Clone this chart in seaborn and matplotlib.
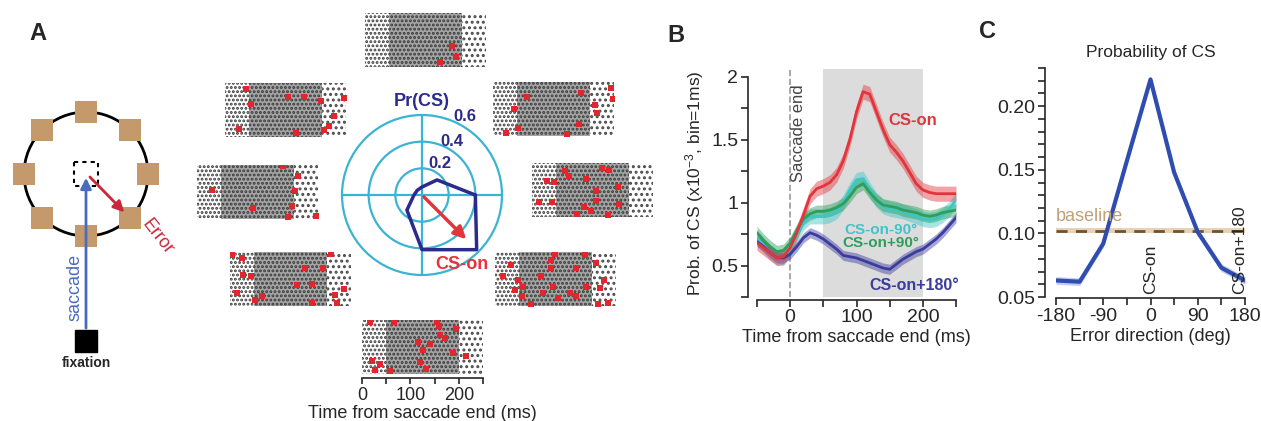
import numpy as np
import matplotlib.pyplot as plt
import matplotlib.patches as mpatches
from matplotlib.ticker import MultipleLocator
import seaborn as sns

sns.set_style('ticks')
plt.rcParams['font.family'] = ['Liberation Sans', 'DejaVu Sans']
plt.rcParams['mathtext.default'] = 'regular'
plt.rcParams['axes.unicode_minus'] = False
plt.rcParams['hatch.linewidth'] = 1.4

W, H = 1261, 421

# ---- panel A: target directions and Pr(CS) per direction
directions = [0, 45, 90, 135, 180, 225, 270, 315]
pr_cs = [0.40, 0.16, 0.06, 0.05, 0.06, 0.16, 0.41, 0.58]
cs_on_dir = 315
cs_on_len = 0.49

# complex spikes in each raster: (time ms, trial fraction)
cs_right = [(69, .15), (76, .24), (31, .33), (45, .36), (111, .30), (145, .09), (159, .13),
            (177, .45), (132, .52), (132, .70), (14, .73), (42, .73), (107, .82), (121, .88),
            (156, .97), (94, .94), (180, .76)]
cs_upright = [(243, .12), (248, .32), (210, .42), (215, .58), (181, .21), (71, .28), (44, .50),
              (51, .85), (27, .94), (177, .77), (152, .97)]
cs_up = [(180, .61), (189, .81), (155, .90)]
cs_upleft = [(44, .11), (54, .39), (130, .25), (164, .26), (198, .34), (245, .28), (226, .62),
             (215, .80), (205, .87), (29, .86), (146, .92)]
cs_left = [(178, .02), (209, .21), (202, .48), (30, .47), (115, .80), (196, .76), (189, .97),
           (245, .94)]
cs_downleft = [(5, .06), (24, .12), (27, .42), (44, .45), (14, .76), (51, .88), (66, .81),
               (154, .30), (193, .30), (138, .62), (170, .59), (170, .94), (208, .03),
               (236, .68), (216, .80), (221, .94)]
cs_down = [(17, .04), (66, .03), (154, .03), (160, .12), (195, .16), (161, .28), (171, .34),
           (116, .40), (140, .44), (127, .56), (188, .61), (214, .66), (21, .75), (38, .82),
           (27, .92), (58, .94), (120, .78), (133, .90)]
cs_downright = [(34, .24), (17, .45), (48, .52), (41, .70), (58, .64), (75, .97), (55, .82),
                (123, .03), (116, .15), (116, .30), (168, .30), (185, .06), (96, .45),
                (120, .64), (99, .76), (130, .85), (154, .76), (168, .82), (188, .64),
                (209, .21), (226, .52), (216, .67), (233, .94), (212, .97)]
raster_cs = [cs_right, cs_upright, cs_up, cs_upleft, cs_left, cs_downleft, cs_down, cs_downright]

# ---- panel B: CS probability vs time
t_b = list(range(-50, 251, 10))
cs_on = [0.68, 0.64, 0.60, 0.56, 0.57, 0.64, 0.76, 0.90, 1.05, 1.11, 1.13, 1.16, 1.22, 1.33,
         1.50, 1.72, 1.88, 1.86, 1.72, 1.58, 1.46, 1.40, 1.33, 1.24, 1.15, 1.10, 1.08, 1.07,
         1.07, 1.07, 1.07]
cs_on_m90 = [0.72, 0.66, 0.60, 0.56, 0.56, 0.63, 0.74, 0.84, 0.89, 0.89, 0.89, 0.90, 0.93,
             1.00, 1.10, 1.18, 1.19, 1.10, 1.02, 0.97, 0.95, 0.94, 0.93, 0.91, 0.89, 0.87,
             0.86, 0.87, 0.90, 0.95, 1.02]
cs_on_p90 = [0.76, 0.70, 0.65, 0.61, 0.62, 0.68, 0.78, 0.87, 0.91, 0.93, 0.93, 0.94, 0.96,
             0.99, 1.05, 1.12, 1.15, 1.08, 1.02, 0.98, 0.97, 0.96, 0.94, 0.93, 0.92, 0.90,
             0.89, 0.90, 0.92, 0.93, 0.94]
cs_on_180 = [0.69, 0.65, 0.60, 0.56, 0.56, 0.59, 0.65, 0.72, 0.76, 0.74, 0.71, 0.67, 0.63,
             0.58, 0.57, 0.56, 0.54, 0.52, 0.50, 0.48, 0.47, 0.51, 0.55, 0.58, 0.61, 0.63,
             0.67, 0.71, 0.76, 0.82, 0.88]
sem_b = [0.06, 0.06, 0.05, 0.04]

# ---- panel C: tuning curve
err_dir = [-180, -135, -90, -45, 0, 45, 90, 135, 180]
prob_cs = [0.063, 0.062, 0.092, 0.157, 0.221, 0.148, 0.101, 0.073, 0.063]
prob_sem = 0.003
baseline = 0.102
baseline_sem = 0.002

red = '#e3343c'
navy = '#2a2b8c'
ring = '#3ab4d2'


def px_axes(fig, x0, y0, w, h, **kw):
    return fig.add_axes([x0 / W, 1 - (y0 + h) / H, w / W, h / H], **kw)


fig = plt.figure(figsize=(W / 100, H / 100), dpi=100)

# ---------------- A: schematic
axs = px_axes(fig, 5, 80, 190, 300)
axs.set_xlim(5, 195)
axs.set_ylim(380, 80)
axs.axis('off')
cx, cy, R = 86, 174, 62
axs.add_patch(mpatches.Circle((cx, cy), R, fill=False, lw=2, ec='black', zorder=1))
for d in directions:
    a = np.deg2rad(d)
    x, y = cx + R * np.cos(a), cy - R * np.sin(a)
    axs.add_patch(mpatches.Rectangle((x - 11, y - 11), 22, 22, color='#c49a6c', lw=0, zorder=2))
axs.add_patch(mpatches.Rectangle((cx - 12, cy - 12), 24, 24, fill=False, ls=(0, (2, 2)),
                                 lw=1.5, ec='black', zorder=3))
axs.add_patch(mpatches.Rectangle((cx - 11, 330), 22, 22, color='black', zorder=2))
axs.annotate('', xy=(cx, cy + 1), xytext=(cx, 331),
             arrowprops=dict(arrowstyle='-|>', color='#4a6cc0', lw=2, mutation_scale=16))
a = np.deg2rad(cs_on_dir)
axs.annotate('', xy=(cx + (R - 5) * np.cos(a), cy - (R - 5) * np.sin(a)), xytext=(cx + 2, cy + 1),
             arrowprops=dict(arrowstyle='-|>', color='#c8283a', lw=2, mutation_scale=16), zorder=4)
axs.text(cx, 363, 'fixation', ha='center', va='center', fontsize=10, fontweight='bold')
axs.text(75, 287, 'saccade', rotation=90, color='#4a6cc0', fontsize=13, ha='center', va='center')
axs.text(157, 237, 'Error', rotation=-52, color='#c8283a', fontsize=13, ha='center', va='center')

# ---------------- A: rasters
raster_pos = [(532, 163), (493, 82), (365, 13), (225, 83), (197, 165), (230, 252), (362, 320),
              (495, 252)]
for d, (x0, y0), ev in zip(directions, raster_pos, raster_cs):
    ax = px_axes(fig, x0, y0, 121, 54)
    ax.set_xlim(0, 250)
    ax.set_ylim(1, 0)
    ax.axvspan(50, 200, color='#a4a4a4', lw=0, zorder=0)
    ax.add_patch(mpatches.Rectangle((0, 0), 200, 1, fill=False, hatch='....', ec='#3a3a3a',
                                    lw=0, zorder=1))
    ax.add_patch(mpatches.Rectangle((200, 0), 50, 1, fill=False, hatch='...', ec='#4a4a4a',
                                    lw=0, zorder=1))
    sns.scatterplot(x=[e[0] for e in ev], y=[e[1] for e in ev], ax=ax, marker='s', s=18,
                    color='#e2262e', linewidth=0, zorder=3)
    sns.despine(ax=ax, left=True, bottom=(d != 270))
    ax.set_yticks([])
    if d == 270:
        ax.spines['bottom'].set_position(('outward', 3))
        ax.spines['bottom'].set_linewidth(1.2)
        ax.set_xticks([0, 100, 200])
        ax.xaxis.set_minor_locator(MultipleLocator(50))
        ax.tick_params(axis='x', which='both', length=4, width=1.2, labelsize=13, pad=2)
        ax.set_xlabel('Time from saccade end (ms)', fontsize=13, labelpad=1)
    else:
        ax.set_xticks([])

# ---------------- A: polar tuning
axp = px_axes(fig, 342, 115, 160, 160, projection='polar')
axp.set_facecolor('none')
axp.set_ylim(0, 0.6)
axp.set_yticks([0.2, 0.4])
axp.set_yticklabels([])
axp.set_xticks(np.deg2rad([0, 90, 180, 270]))
axp.set_xticklabels([])
axp.grid(True, color=ring, lw=1.6)
axp.spines['polar'].set_color(ring)
axp.spines['polar'].set_linewidth(1.6)
theta = list(np.deg2rad(directions)) + [2 * np.pi]
sns.lineplot(x=theta, y=pr_cs + [pr_cs[0]], ax=axp, sort=False, estimator=None,
             color=navy, lw=2.5)
axp.annotate('', xy=(np.deg2rad(cs_on_dir), cs_on_len), xytext=(0, 0),
             arrowprops=dict(arrowstyle='-|>', color=red, lw=2.5, mutation_scale=18))
for r, rr in zip([0.2, 0.4, 0.6], [0.27, 0.46, 0.67]):
    axp.text(np.deg2rad(61), rr, f'{r:.1f}', color=navy, fontsize=12, fontweight='bold',
             ha='center', va='center')
axp.text(np.pi / 2, 0.70, 'Pr(CS)', color=navy, fontsize=13, fontweight='bold',
         ha='center', va='center', clip_on=False)
axp.text(np.deg2rad(300), 0.60, 'CS-on', color=red, fontsize=13, fontweight='bold',
         ha='center', va='center', clip_on=False)

# ---------------- B
axb = px_axes(fig, 757, 69, 199, 228)
axb.axvspan(50, 200, color='#dcdcdc', lw=0, zorder=0)
axb.axvline(0, color='#9a9a9a', ls='--', lw=1.2, zorder=1)
series_b = [(cs_on_m90, '#3cc6c6'), (cs_on_p90, '#2e9e5b'), (cs_on_180, '#3b3c9e'), (cs_on, red)]
sems = [sem_b[1], sem_b[2], sem_b[3], sem_b[0]]
for (vals, col), s in zip(series_b, sems):
    v = np.array(vals)
    axb.fill_between(t_b, v - s, v + s, color=col, alpha=0.45, lw=0, zorder=2)
    sns.lineplot(x=t_b, y=vals, ax=axb, color=col, lw=2, zorder=3)
axb.set_xlim(-50, 250)
axb.set_ylim(0.25, 2.06)
axb.set_yticks([0.5, 1, 1.5, 2], ['0.5', '1', '1.5', '2'])
axb.yaxis.set_minor_locator(MultipleLocator(0.25))
axb.set_xticks([0, 100, 200])
axb.xaxis.set_minor_locator(MultipleLocator(50))
sns.despine(ax=axb)
axb.spines['left'].set_bounds(0.25, 2)
axb.spines['left'].set_position(('outward', 6.5))
axb.spines['bottom'].set_position(('outward', 2))
for sp in ['left', 'bottom']:
    axb.spines[sp].set_linewidth(1.2)
axb.tick_params(which='both', length=5, width=1.2, labelsize=14, pad=2)
axb.set_xlabel('Time from saccade end (ms)', fontsize=13, labelpad=2)
axb.set_ylabel('Prob. of CS (x10$^{-3}$, bin=1ms)', fontsize=12.5, labelpad=4)
axb.text(12, 1.55, 'Saccade end', rotation=90, fontsize=12, color='#444444',
         ha='center', va='center')
axb.text(185, 1.65, 'CS-on', color=red, fontsize=12, fontweight='bold', ha='center', va='center')
axb.text(137, 0.785, 'CS-on-90°', color='#45c3c8', fontsize=11, fontweight='bold',
         ha='center', va='center')
axb.text(137, 0.675, 'CS-on+90°', color='#2e9e5b', fontsize=11, fontweight='bold',
         ha='center', va='center')
axb.text(187, 0.34, 'CS-on+180°', color='#3b3c9e', fontsize=11.5, fontweight='bold',
         ha='center', va='center')

# ---------------- C
axc = px_axes(fig, 1056, 68, 189, 229)
axc.fill_between([-180, 180], baseline - baseline_sem, baseline + baseline_sem,
                 color='#e6d2b4', lw=0, zorder=1)
axc.axhline(baseline, color='#6e5232', ls=(0, (4, 3)), lw=2, zorder=2)
pc = np.array(prob_cs)
axc.fill_between(err_dir, pc - prob_sem, pc + prob_sem, color='#a9b8ea', alpha=0.7, lw=0,
                 zorder=3)
sns.lineplot(x=err_dir, y=prob_cs, ax=axc, color='#2f4db0', lw=3, zorder=4)
axc.set_xlim(-180, 180)
axc.set_ylim(0.05, 0.23)
axc.set_yticks([0.05, 0.10, 0.15, 0.20], ['0.05', '0.10', '0.15', '0.20'])
axc.yaxis.set_minor_locator(MultipleLocator(0.01))
axc.set_xticks([-180, -90, 0, 90, 180])
axc.xaxis.set_minor_locator(MultipleLocator(45))
sns.despine(ax=axc)
axc.spines['left'].set_position(('outward', 8))
axc.spines['bottom'].set_position(('outward', 1))
for sp in ['left', 'bottom']:
    axc.spines[sp].set_linewidth(1.2)
axc.tick_params(which='both', length=5, width=1.2, labelsize=14, pad=2)
axc.set_xlabel('Error direction (deg)', fontsize=13, labelpad=2)
axc.set_title('Probability of CS', fontsize=12.5, pad=8)
axc.text(-180, 0.113, 'baseline', color='#c0a078', fontsize=13, ha='left', va='center', zorder=5)
axc.text(0, 0.052, 'CS-on', rotation=90, fontsize=12.5, ha='center', va='bottom', zorder=5)
axc.text(170, 0.052, 'CS-on+180', rotation=90, fontsize=12.5, ha='center', va='bottom',
         zorder=5, clip_on=False)

# panel letters
for lab, (x, y) in zip('ABC', [(38, 33), (676, 35), (988, 31)]):
    fig.text(x / W, 1 - y / H, lab, fontsize=17, fontweight='bold', ha='center', va='center')

fig.savefig('out.png', dpi=100)
